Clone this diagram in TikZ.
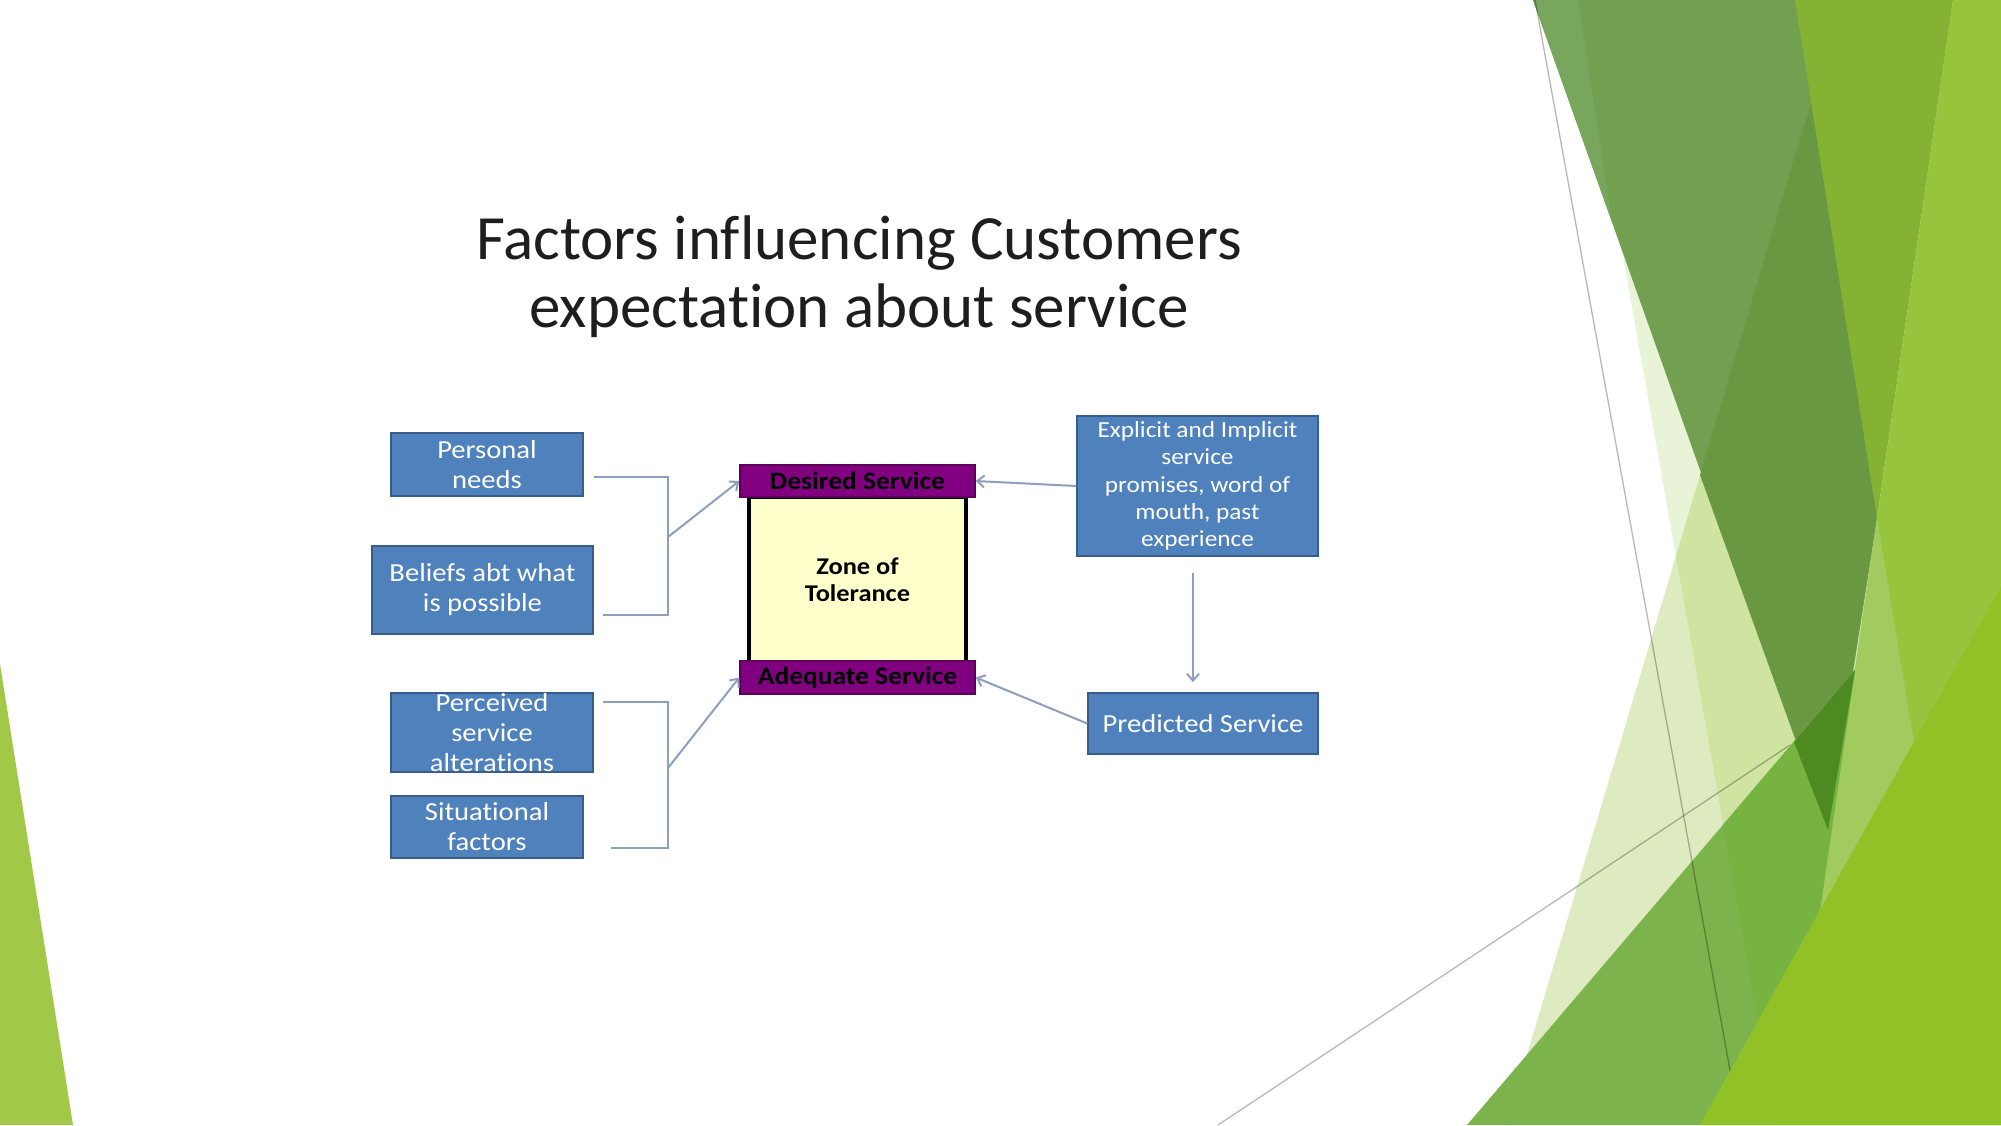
\documentclass[tikz,border=0pt]{standalone}
\usepackage{fontspec}
\setmainfont{Carlito}[Ligatures=NoCommon]
\newfontfamily\boxfam{Carlito}[FakeStretch=1.1,Ligatures=NoCommon]
\usetikzlibrary{arrows.meta,calc}
\definecolor{gLeft}{RGB}{162,200,72}
\definecolor{pTwo}{RGB}{222,235,192}
\definecolor{pOne}{RGB}{233,243,216}
\definecolor{pBoth}{RGB}{207,228,160}
\definecolor{sOne}{RGB}{114,160,80}
\definecolor{sOneL}{RGB}{120,166,92}
\definecolor{dReg}{RGB}{106,152,66}
\definecolor{sTwo}{RGB}{132,178,50}
\definecolor{sThree}{RGB}{151,196,61}
\definecolor{sThreeL}{RGB}{162,203,95}
\definecolor{sFour}{RGB}{124,179,76}
\definecolor{sFourR}{RGB}{118,179,64}
\definecolor{spot}{RGB}{78,138,34}
\definecolor{sFive}{RGB}{144,194,40}
\definecolor{boxblue}{RGB}{79,129,189}
\definecolor{boxline}{RGB}{56,93,138}
\definecolor{barpurple}{RGB}{128,0,128}
\definecolor{barline}{RGB}{90,0,90}
\definecolor{zoney}{RGB}{255,255,204}
\definecolor{connc}{RGB}{140,160,190}
\definecolor{titlec}{RGB}{30,30,30}
\begin{document}
\begin{tikzpicture}[x=1pt,y=-1pt,
  bluebox/.style={draw=boxline,line width=1.5pt,fill=boxblue,inner sep=0pt},
  boxtxt/.style={text=white,align=center,inner sep=0pt,font=\boxfam\fontsize{26}{30}\selectfont},
  barbox/.style={draw=barline,line width=1.5pt,fill=barpurple,minimum width=235pt,inner sep=0pt,font=\boxfam\bfseries\fontsize{25}{30}\selectfont,text=black},
  conn/.style={draw=connc,line width=2pt},
  arr/.style={conn,-{Straight Barb[length=7pt,width=12pt]}},
  titletxt/.style={font=\fontsize{63}{68}\selectfont,text=titlec,inner sep=0pt,anchor=base},
  thinline/.style={draw=black,draw opacity=0.28,line width=1.3pt}
]
\fill[white] (0,0) rectangle (2001,1125);
\useasboundingbox (0,0) rectangle (2001,1125);

% left decoration
\fill[gLeft] (0,664) -- (73,1125) -- (0,1125) -- cycle;

% right decoration
\fill[pTwo] (1842,0) -- (2001,0) -- (2001,1125) -- (1506,1125) -- cycle;
\fill[pOne] (1578,0) -- (1776,1125) -- (2001,1125) -- (2001,0) -- cycle;
\begin{scope}
  \clip (1842,0) -- (2001,0) -- (2001,1125) -- (1506,1125) -- cycle;
  \fill[pBoth] (1578,0) -- (1776,1125) -- (2001,1125) -- (2001,0) -- cycle;
\end{scope}
\draw[thinline] (1218,1125) -- (1790,745);
\fill[sOne] (1533,0) -- (1900,0) -- (1877,518) -- (1828,830) -- cycle;
\fill[sOneL] (1533,0) -- (1578,0) -- (1612,222) -- cycle;
\fill[dReg] (1811,102) -- (1877,518) -- (1828,830) -- (1700,475) -- cycle;
\fill[sTwo] (1795,0) -- (1953,0) -- (1877,518) -- cycle;
\fill[sThree] (1953,0) -- (2001,0) -- (2001,1125) -- (1700,1125) -- (1820,910) -- cycle;
\fill[sThreeL] (1877,518) -- (1914,742) -- (1820,910) -- cycle;
\fill[sFour] (1467,1125) -- (1855,670) -- (1820,910) -- (1700,1125) -- cycle;
\begin{scope}
  \clip (1467,1125) -- (1855,670) -- (1820,910) -- (1700,1125) -- cycle;
  \fill[sFourR] (1578,0) -- (1776,1125) -- (2001,1125) -- (2001,0) -- cycle;
\end{scope}
\fill[spot] (1794,742) -- (1855,670) -- (1828,830) -- cycle;
\draw[thinline] (1535,0) -- (1740,1125);
\fill[sFive] (1700,1125) -- (2001,586) -- (2001,1125) -- cycle;

% title
\node[titletxt] (t1) at (859,259) {Factors influencing Customers};
\node[titletxt] (t2) at (859,327) {expectation about service};

% left boxes
\node[bluebox,boxtxt,minimum width=192pt,minimum height=63pt] (pn) at (487,464.5) {Personal\\needs};
\node[bluebox,boxtxt,minimum width=221pt,minimum height=88pt] (bp) at (482.5,590) {Beliefs abt what\\is possible};
\node[bluebox,minimum width=202pt,minimum height=79pt] (pa) at (492,732.5) {};
\node[boxtxt] (pat) at (pa.center) {Perceived\\service\\alterations};
\node[bluebox,boxtxt,minimum width=192pt,minimum height=62pt] (sf) at (487,827) {Situational\\factors};

% centre
\node[draw=black,line width=4.5pt,fill=zoney,minimum width=217pt,minimum height=165pt,inner sep=0pt,align=center,font=\boxfam\bfseries\fontsize{24}{27}\selectfont] (zt) at (857.5,579.5) {Zone of\\Tolerance};
\node[barbox,minimum height=32pt] (ds) at (857.5,481) {Desired Service};
\node[barbox,minimum height=33pt] (as) at (857.5,677.5) {Adequate Service};

% right boxes
\node[bluebox,boxtxt,font=\boxfam\fontsize{23}{27.4}\selectfont,minimum width=241pt,minimum height=140pt] (ex) at (1197.5,486) {Explicit and Implicit\\service\\promises, word of\\mouth, past\\experience};
\node[bluebox,boxtxt,minimum width=230pt,minimum height=61pt] (pd) at (1203,723.5) {Predicted Service};

% brackets
\coordinate (b1a) at (594,477);
\coordinate (b1t) at (668,477);
\coordinate (b1b) at (668,615);
\coordinate (b1c) at (603,615);
\coordinate (b1m) at (668,537);
\coordinate (b2a) at (603,702);
\coordinate (b2t) at (668,702);
\coordinate (b2b) at (668,848);
\coordinate (b2c) at (611,848);
\coordinate (b2m) at (668,768);
\draw[conn] (b1a) -- (b1t) -- (b1b) -- (b1c);
\draw[conn] (b2a) -- (b2t) -- (b2b) -- (b2c);
\draw[arr] (b1m) -- (ds.west);
\draw[arr] (b2m) -- (as.west);
\draw[arr] (ex.west) -- (ds.east);
\draw[arr] ($(ex.south)+(-4.5,16)$) -- ($(ex.south |- pd.north)+(-4.5,-10)$);
\draw[arr] (pd.west) -- (as.east);
\end{tikzpicture}
\end{document}
